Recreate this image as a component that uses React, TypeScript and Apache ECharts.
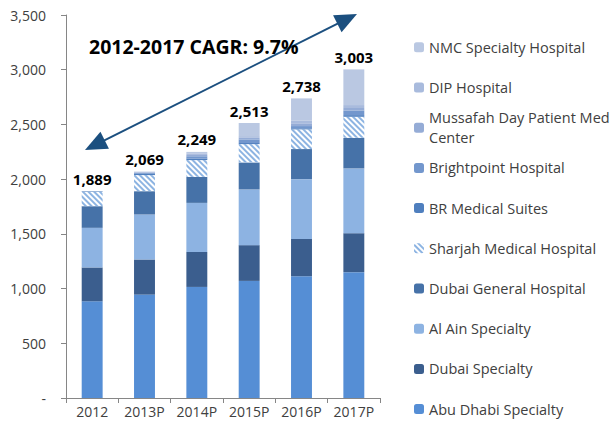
import React, { useEffect, useRef } from "react";
import * as echarts from "echarts";

const categories = ["2012", "2013P", "2014P", "2015P", "2016P", "2017P"];
const abuDhabi = [884, 945, 1015, 1070, 1113, 1150];
const dubaiSpecialty = [309, 321, 320, 327, 341, 356];
const alAin = [362, 411, 448, 509, 546, 592];
const dubaiGeneral = [198, 213, 238, 247, 275, 280];
const sharjah = [131, 147, 153, 167, 180, 192];
const brMedical = [5, 10, 15, 10, 10, 15];
const brightpoint = [0, 8, 20, 33, 20, 40];
const mussafah = [0, 6, 12, 15, 20, 25];
const dip = [0, 5, 10, 15, 28, 27];
const nmc = [0, 3, 18, 120, 205, 326];

const seriesNames = [
  "Abu Dhabi Specialty",
  "Dubai Specialty",
  "Al Ain Specialty",
  "Dubai General Hospital",
  "Sharjah Medical Hospital",
  "BR Medical Suites",
  "Brightpoint Hospital",
  "Mussafah Day Patient Med Center",
  "DIP Hospital",
  "NMC Specialty Hospital",
];
const seriesData = [abuDhabi, dubaiSpecialty, alAin, dubaiGeneral, sharjah, brMedical, brightpoint, mussafah, dip, nmc];
const seriesColors = ["#558ed5", "#3b5e8e", "#8db3e2", "#4672a8", "#ffffff", "#4f7fbe", "#7397cd", "#95acd6", "#a9bbdd", "#bac8e2"];

const cagrText = "2012-2017 CAGR: 9.7%";
const FONT = "'Open Sans', 'Noto Sans', sans-serif";

export default function App() {
  const ref = useRef<HTMLDivElement>(null);
  useEffect(() => {
    document.body.style.margin = "0";
    if (!ref.current) return;
    const chart = echarts.init(ref.current, null, { renderer: "svg" });
    const totals = categories.map((_, i) => seriesData.reduce((s, arr) => s + arr[i], 0));

    const series: any[] = seriesNames.map((name, k) => {
      const s: any = {
        name,
        type: "bar",
        stack: "total",
        barWidth: "40%",
        data: seriesData[k],
        itemStyle: { color: seriesColors[k] },
      };
      if (name === "Sharjah Medical Hospital") {
        s.itemStyle = {
          color: "#ffffff",
          decal: {
            symbol: "rect",
            symbolSize: 1,
            dashArrayX: [1, 0],
            dashArrayY: [2, 2],
            rotation: Math.PI / 4,
            color: "#8db4e2",
          },
        };
      }
      if (k === seriesNames.length - 1) {
        s.label = {
          show: true,
          position: "top",
          distance: 5,
          fontFamily: FONT,
          fontWeight: "bold",
          fontSize: 15,
          color: "#000000",
          formatter: (p: any) => totals[p.dataIndex].toLocaleString("en-US"),
        };
      }
      return s;
    });

    const legendOrder = [...seriesNames].reverse();
    const legends = legendOrder.map((name, i) => {
      const center = 47.3 + i * 40.2;
      const isWrap = name.startsWith("Mussafah");
      return {
        orient: "vertical",
        left: 414,
        top: center - 10 - (isWrap ? 20 : 0),
        padding: 0,
        itemWidth: 10,
        itemHeight: 10,
        selectedMode: false,
        data: [name],
        formatter: (n: string) => (n.startsWith("Mussafah") ? "Mussafah Day Patient Med\nCenter" : n),
        textStyle: {
          fontFamily: FONT,
          fontSize: 14.5,
          color: "#404040",
          lineHeight: 20,
          padding: isWrap ? [20, 0, 0, 0] : 0,
        },
      };
    });

    // arrow annotation
    const tipL = [85, 150];
    const tipR = [357, 14];
    const dx = tipR[0] - tipL[0];
    const dy = tipR[1] - tipL[1];
    const len = Math.sqrt(dx * dx + dy * dy);
    const ux = dx / len;
    const uy = dy / len;
    const headLen = 22;
    const headW = 9.5;
    const head = (tip: number[], dir: number) => {
      const bx = tip[0] - dir * ux * headLen;
      const by = tip[1] - dir * uy * headLen;
      return [
        [tip[0], tip[1]],
        [bx - uy * headW, by + ux * headW],
        [bx + uy * headW, by - ux * headW],
      ];
    };
    const arrowColor = "#1b4f7f";

    chart.setOption({
      animation: false,
      grid: { left: 66, right: 234, top: 15, bottom: 27, containLabel: false },
      xAxis: {
        type: "category",
        data: categories,
        axisLine: { lineStyle: { color: "#868686", width: 1 } },
        axisTick: { show: true, length: 5, interval: 0, lineStyle: { color: "#868686" } },
        axisLabel: { fontFamily: FONT, fontSize: 14, color: "#404040", margin: 6, interval: 0 },
      },
      yAxis: {
        type: "value",
        min: 0,
        max: 3500,
        interval: 500,
        splitLine: { show: false },
        axisLine: { show: true, lineStyle: { color: "#868686", width: 1 } },
        axisTick: { show: true, length: 5, lineStyle: { color: "#868686" } },
        axisLabel: {
          fontFamily: FONT,
          fontSize: 14,
          color: "#404040",
          margin: 20,
          formatter: (v: number) => (v === 0 ? "-" : v.toLocaleString("en-US")),
        },
      },
      legend: legends,
      series,
      graphic: [
        {
          type: "line",
          shape: {
            x1: tipL[0] + ux * (headLen - 2),
            y1: tipL[1] + uy * (headLen - 2),
            x2: tipR[0] - ux * (headLen - 2),
            y2: tipR[1] - uy * (headLen - 2),
          },
          style: { stroke: arrowColor, lineWidth: 2 },
          z: 100,
        },
        { type: "polygon", shape: { points: head(tipL, -1) }, style: { fill: arrowColor }, z: 100 },
        { type: "polygon", shape: { points: head(tipR, 1) }, style: { fill: arrowColor }, z: 100 },
        {
          type: "text",
          left: 89,
          top: 36,
          style: {
            text: cagrText,
            fontFamily: FONT,
            fontWeight: "bold",
            fontSize: 19.5,
            fill: "#000000",
          },
          z: 100,
        },
      ],
    });
    return () => chart.dispose();
  }, []);
  return <div ref={ref} style={{ width: 614, height: 425 }} />;
}
